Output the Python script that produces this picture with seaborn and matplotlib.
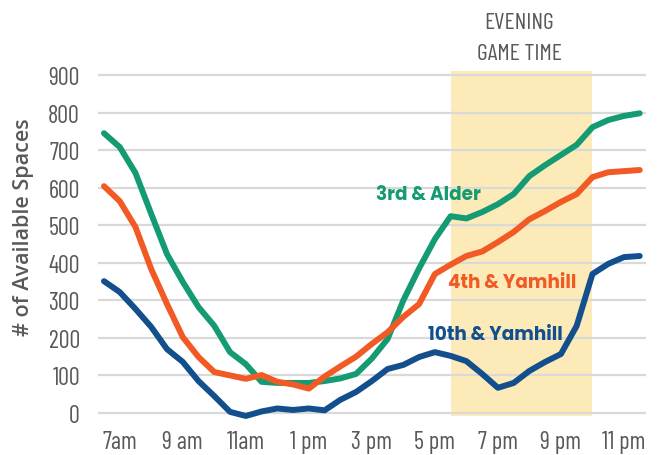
import matplotlib
matplotlib.use("Agg")
import matplotlib.pyplot as plt
import numpy as np
import pandas as pd
import seaborn as sns

# Half-hourly counts from 6:30 am to 11:30 pm (hours on a 24h clock)
hours = [6.5 + 0.5 * i for i in range(35)]

alder_3rd = [745, 708, 639, 530, 423, 349, 282, 232, 162, 130,
             83, 80, 80, 80, 85, 92, 104, 145, 197, 300,
             385, 463, 524, 518, 535, 556, 583, 631, 660, 687,
             714, 761, 780, 791, 798]
yamhill_4th = [604, 564, 495, 383, 290, 202, 149, 109, 100, 91,
               101, 83, 76, 65, 97, 124, 150, 184, 215, 256,
               290, 370, 395, 418, 430, 455, 482, 516, 538, 562,
               583, 628, 641, 644, 647]
yamhill_10th = [351, 322, 277, 229, 170, 136, 85, 45, 3, -8,
                4, 12, 8, 12, 7, 35, 56, 85, 117, 128,
                149, 162, 152, 138, 104, 67, 80, 112, 136, 157,
                232, 370, 397, 415, 418]

series_names = ["3rd & Alder", "4th & Yamhill", "10th & Yamhill"]
series_colors = ["#159B73", "#F15A24", "#134F8D"]

tick_hours = [7, 9, 11, 13, 15, 17, 19, 21, 23]
tick_labels = ["7am", "9 am", "11am", "1 pm", "3 pm", "5 pm", "7 pm", "9 pm", "11 pm"]
y_ticks = [0, 100, 200, 300, 400, 500, 600, 700, 800, 900]

game_start, game_end = 17.5, 22.0
game_low, game_high = -8, 910

df = pd.DataFrame({
    "hour": hours * 3,
    "spaces": alder_3rd + yamhill_4th + yamhill_10th,
    "location": np.repeat(series_names, len(hours)),
})

sns.set_theme(style="white")
narrow = ["Barlow Condensed", "DejaVu Sans"]
gray = "#595959"

fig = plt.figure(figsize=(6.59, 4.56), dpi=100)
ax = fig.add_axes([0.1487, 0.0757, 0.8316, 0.7741])

# evening game window
ax.fill_between([game_start, game_end], game_low, game_high,
                color="#FCEBB8", linewidth=0, zorder=1)

sns.lineplot(data=df, x="hour", y="spaces", hue="location",
             hue_order=series_names, palette=series_colors,
             linewidth=4.3, legend=False, ax=ax, zorder=3,
             solid_capstyle="round", solid_joinstyle="round")

ax.set_xlim(6.31, 23.7)
ax.set_ylim(-20, 920)
ax.set_yticks(y_ticks)
ax.set_yticklabels([str(v) for v in y_ticks])
ax.set_xticks(tick_hours)
ax.set_xticklabels(tick_labels)
for lab in ax.get_xticklabels() + ax.get_yticklabels():
    lab.set_family(narrow)
    lab.set_fontsize(17.5)
    lab.set_color(gray)
ax.tick_params(axis="y", length=0, pad=13)
ax.tick_params(axis="x", length=0, pad=7)

ax.yaxis.grid(True, color="#D9D9D9", linewidth=1.6)
ax.xaxis.grid(False)
ax.set_axisbelow("line")
for s in ax.spines.values():
    s.set_visible(False)

ax.set_xlabel("")
ax.set_ylabel("")
fig.text(23 / 659, 1 - 227 / 456, "# of Available Spaces", rotation=90,
         ha="center", va="center", fontsize=15.5, color=gray,
         family=["Open Sans", "DejaVu Sans"], fontweight="semibold")

fig.text(519 / 659, 1 - 24 / 456, "EVENING", ha="center", va="center",
         fontsize=17, color=gray, family=narrow)
fig.text(519 / 659, 1 - 55 / 456, "GAME TIME", ha="center", va="center",
         fontsize=17, color=gray, family=narrow)

label_font = ["Poppins", "DejaVu Sans"]
fig.text(428 / 659, 1 - 196 / 456, series_names[0], ha="center", va="center",
         fontsize=13.3, color=series_colors[0], family=label_font, fontweight="bold")
fig.text(512 / 659, 1 - 283 / 456, series_names[1], ha="center", va="center",
         fontsize=13.3, color=series_colors[1], family=label_font, fontweight="bold")
fig.text(495 / 659, 1 - 336 / 456, series_names[2], ha="center", va="center",
         fontsize=13.3, color=series_colors[2], family=label_font, fontweight="bold")

fig.savefig("out.png", dpi=100)
